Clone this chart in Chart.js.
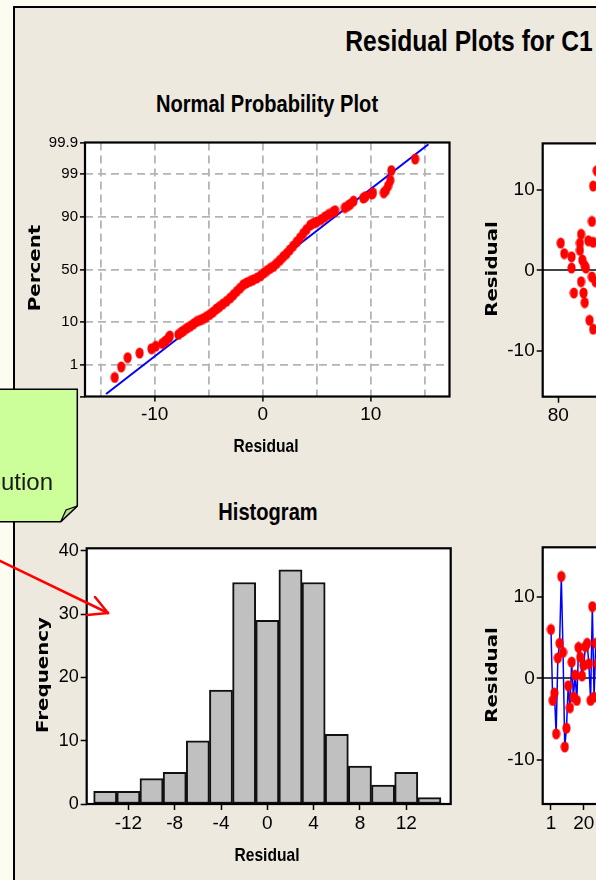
<!DOCTYPE html>
<html><head><meta charset="utf-8">
<script src="https://cdn.jsdelivr.net/npm/chart.js@4.4.1/dist/chart.umd.min.js"></script>
<style>
html,body{margin:0;padding:0;width:596px;height:880px;overflow:hidden;background:#fdfcf1;font-family:'Liberation Sans',Arial,sans-serif}
#panel{position:absolute;left:13px;top:6px;width:800px;height:1000px;background:#ede9df;border-left:2px solid #000;border-top:2px solid #000}
.box{position:absolute}
.txt{position:absolute;white-space:nowrap;line-height:1;color:#000}
.ttl{font-weight:bold;text-align:center;width:400px;transform:scaleX(.82)}
.rot{position:absolute;width:0;height:0}
.rot span{position:absolute;left:0;top:0;white-space:nowrap;line-height:1;font:bold 15px 'DejaVu Sans',sans-serif;transform:translate(-50%,-50%) rotate(-90deg) scaleX(1.32)}
</style></head>
<body>
<div id="panel"></div>

<div class="box" style="left:0;top:130px;width:460px;height:320px"><canvas id="npp"></canvas></div>
<div class="box" style="left:0;top:530px;width:460px;height:340px"><canvas id="hist"></canvas></div>
<div class="box" style="left:460px;top:130px;width:460px;height:320px"><canvas id="fits"></canvas></div>
<div class="box" style="left:460px;top:530px;width:460px;height:340px"><canvas id="order"></canvas></div>

<div class="txt ttl" style="left:268.5px;top:26px;font-size:30px">Residual Plots for C1</div>
<div class="txt ttl" style="left:66.5px;top:91.8px;font-size:24.5px">Normal Probability Plot</div>
<div class="txt ttl" style="left:68px;top:500px;font-size:24.5px">Histogram</div>
<div class="txt ttl" style="left:66px;top:435.5px;font-size:19px">Residual</div>
<div class="txt ttl" style="left:67px;top:844.5px;font-size:19px">Residual</div>
<div class="rot" style="left:35px;top:268px"><span>Percent</span></div>
<div class="rot" style="left:43px;top:675px"><span>Frequency</span></div>
<div class="rot" style="left:492px;top:269px"><span>Residual</span></div>
<div class="rot" style="left:492px;top:675px"><span>Residual</span></div>

<svg class="box" style="left:0;top:0;z-index:5" width="596" height="880">
  <polygon points="-5,389.3 77.3,389.3 77.3,506 60.7,521.7 -5,521.7" fill="#ccff99" stroke="#000" stroke-width="1.5"/>
  <polygon points="77.3,506 66,510 60.7,521.7" fill="#b8e08c" stroke="#000" stroke-width="1.2"/>
  <g stroke="#ff0000" stroke-width="2.5" stroke-linecap="round" fill="none">
    <line x1="-2" y1="560" x2="108" y2="613"/>
    <line x1="108" y1="613" x2="95" y2="597"/>
    <line x1="108" y1="613" x2="87" y2="615"/>
  </g>
</svg>
<div class="txt" style="left:-63px;top:469.7px;font-size:24px;color:#1a1a1a;z-index:6">distribution</div>

<script>
// normal probability plot: residual and percent
const nppRes=[-13.7,-13.1,-12.5,-11.4,-10.3,-9.9,-9.3,-9.0,-8.7,-8.6,-7.8,-7.5,-7.3,-7.0,-6.7,-6.4,-6.1,-5.8,-5.5,-5.2,-4.9,-4.6,-4.3,-4.0,-3.7,-3.35,-3.0,-2.7,-2.4,-2.1,-1.8,-1.5,-1.2,-0.9,-0.55,-0.2,0.1,0.4,0.7,1.0,1.3,1.6,1.9,2.2,2.5,2.8,3.15,3.45,3.75,4.05,4.4,4.7,5.0,5.4,5.75,6.1,6.5,6.7,7.6,7.9,8.1,8.4,9.3,9.5,10.1,10.2,11.2,11.4,11.6,11.8,11.9,14.1];
const nppPct=[0.43,0.89,1.6,2.1,2.7,3.1,3.6,4.1,4.8,5.3,5.7,6.4,6.9,7.7,8.4,9.3,10.3,10.9,11.6,12.6,13.7,15.0,16.8,18.3,20.0,22,24.5,27,29.8,32.5,35.6,37.2,38.6,40,41.8,44,46.6,49,51.2,53,56,59,62.3,65,68.3,71.5,75,78,81,83.5,86,87,87.7,88.8,90,91,91.9,92.4,93.4,94,94.4,95.2,95.9,96.2,96.7,96.9,96.9,97.3,97.9,98.5,99.2,99.64];
const fitRes=[-14.5,15.33];
const fitPct=[0.122,99.885];
const nppYTicks=[0.1,1,10,50,90,99,99.9];
const nppXTicks=[-15,-10,-5,0,5,10,15];

// histogram
const histBins=[-14,-12,-10,-8,-6,-4,-2,0,2,4,6,8,10,12,14];
const histFreq=[2,2,4,5,10,18,35,29,37,35,11,6,3,5,1];
const histXTicks=[-12,-8,-4,0,4,8,12];
const histYTicks=[0,10,20,30,40];

// versus fits (visible part)
const fitsX=[80.2,80.5,81.1,81.1,81.3,81.8,81.9,81.8,82.0,82.2,82.3,81.9,82.1,82.2,82.5,82.6,82.9,82.8,82.9,82.8,82.9,83.2,83.1];
const fitsY=[3.4,2.1,1.7,0.3,-2.8,3.4,4.5,2.5,1.3,0.6,0.3,-1.4,-2.8,-4.0,3.7,-6.2,-7.3,6.1,10.5,-0.8,3.5,12.4,-1.4];
const fitsXTicks=[80,90,100];

// versus order (visible part)
const orderY=[6.0,-2.7,-1.8,-6.8,2.5,4.3,12.5,3.2,-8.4,-6.1,-0.9,-3.6,2.0,-2.3,0.4,-2.7,3.8,2.6,0.3,1.6,3.9,4.3,1.8,-2.7,8.8,-2.3,4.3,1.8];
const orderXTicks=[1,20,40,60,80,100,120,140,160,180,200];
const resTicks=[-10,0,10];

function probit(p){
  const a=[-39.69683028665376,220.9460984245205,-275.9285104469687,138.3577518672690,-30.66479806614716,2.506628277459239];
  const b=[-54.47609879822406,161.5858368580409,-155.6989798598866,66.80131188771972,-13.28068155288572];
  const c=[-0.007784894002430293,-0.3223964580411365,-2.400758277161838,-2.549732539343734,4.374664141464968,2.938163982698783];
  const d=[0.007784695709041462,0.3224671290700398,2.445134137142996,3.754408661907416];
  const pl=0.02425;let q,r;
  if(p<pl){q=Math.sqrt(-2*Math.log(p));return (((((c[0]*q+c[1])*q+c[2])*q+c[3])*q+c[4])*q+c[5])/((((d[0]*q+d[1])*q+d[2])*q+d[3])*q+1);}
  if(p>1-pl){q=Math.sqrt(-2*Math.log(1-p));return -(((((c[0]*q+c[1])*q+c[2])*q+c[3])*q+c[4])*q+c[5])/((((d[0]*q+d[1])*q+d[2])*q+d[3])*q+1);}
  q=p-0.5;r=q*q;
  return (((((a[0]*r+a[1])*r+a[2])*r+a[3])*r+a[4])*r+a[5])*q/(((((b[0]*r+b[1])*r+b[2])*r+b[3])*r+b[4])*r+1);
}
const z=pct=>probit(pct/100);

const F="'Liberation Sans Narrow','Liberation Sans',sans-serif";
const setTicks=list=>s=>{s.ticks=list.map(v=>({value:v}));};
const fixW=w=>s=>{s.width=w;};
const fixH=h=>s=>{s.height=h;};
const clear='rgba(0,0,0,0)';

// red dot, taller than wide like the original symbol
const dot=document.createElement('canvas');
dot.width=9;dot.height=12;
(g=>{g.fillStyle='#ff0000';g.beginPath();g.ellipse(4.5,6,4.1,5.6,0,0,Math.PI*2);g.fill();})(dot.getContext('2d'));

const frame={id:'frame',
  beforeDraw(c){const a=c.chartArea,g=c.ctx;g.save();g.fillStyle='#fff';g.fillRect(a.left,a.top,a.right-a.left,a.bottom-a.top);g.restore();},
  afterDraw(c){const a=c.chartArea,g=c.ctx;g.save();g.strokeStyle='#000';g.lineWidth=2.2;g.strokeRect(a.left,a.top,a.right-a.left,a.bottom-a.top);g.restore();}
};

const base={animation:false,responsive:true,maintainAspectRatio:false,events:[],
  plugins:{legend:{display:false},tooltip:{enabled:false}}};
const tk=size=>({autoSkip:false,maxRotation:0,color:'#000',font:{family:F,size},padding:2});

new Chart(document.getElementById('npp'),{
  type:'scatter',
  data:{datasets:[
    {data:fitRes.map((r,i)=>({x:r,y:z(fitPct[i])})),showLine:true,borderColor:'#0000ff',borderWidth:2,pointRadius:0,order:2},
    {data:nppRes.map((r,i)=>({x:r,y:z(nppPct[i])})),pointStyle:dot,pointRadius:5,backgroundColor:'#ff0000',order:1}
  ]},
  options:{...base,
    layout:{padding:{left:0,top:12.5,right:10.5,bottom:13.5}},
    scales:{
      x:{type:'linear',min:-16.45,max:17.28,afterBuildTicks:setTicks(nppXTicks),afterFit:fixH(40),
        ticks:{...tk(19),callback:v=>v%10===0?String(v):''},
        grid:{color:'#b4b4b4',lineWidth:1.8,tickLength:5,tickWidth:1.5,tickColor:c=>c.tick&&c.tick.value%10===0?'#000':clear},
        border:{display:false,dash:[8,5]}},
      y:{type:'linear',min:z(0.1),max:z(99.9),afterBuildTicks:setTicks(nppYTicks.map(z)),afterFit:fixW(85),
        ticks:{...tk(15),callback:(v,i)=>String(nppYTicks[i])},
        grid:{color:c=>c.tick&&(c.index===0||c.index===nppYTicks.length-1)?clear:'#b4b4b4',lineWidth:1.8,tickLength:5,tickWidth:1.5,tickColor:'#000'},
        border:{display:false,dash:[8,5]}}
    }},
  plugins:[frame]
});

new Chart(document.getElementById('hist'),{
  type:'bar',
  data:{datasets:[{data:histBins.map((b,i)=>({x:b,y:histFreq[i]})),backgroundColor:'#c0c0c0',borderColor:'#111',borderWidth:2,borderSkipped:false,barPercentage:1,categoryPercentage:1}]},
  options:{...base,
    layout:{padding:{left:0,top:18.3,right:9.3,bottom:26}},
    scales:{
      x:{type:'linear',offset:false,min:-15.6,max:15.84,afterBuildTicks:setTicks(histXTicks),afterFit:fixH(40),
        ticks:tk(19),grid:{offset:false,drawOnChartArea:false,tickLength:6,tickWidth:1.5,tickColor:'#000'},border:{display:false}},
      y:{type:'linear',min:0,max:40.4,afterBuildTicks:setTicks(histYTicks),afterFit:fixW(86.7),
        ticks:tk(18),grid:{drawOnChartArea:false,tickLength:6,tickWidth:1.5,tickColor:'#000'},border:{display:false}}
    }},
  plugins:[frame]
});

const zeroLine={color:c=>c.tick&&c.tick.value===0?'#444':clear,lineWidth:2,tickLength:6,tickWidth:1.5,tickColor:'#000'};

new Chart(document.getElementById('fits'),{
  type:'scatter',
  data:{datasets:[{data:fitsX.map((x,i)=>({x,y:fitsY[i]})),pointStyle:dot,pointRadius:5,backgroundColor:'#ff0000'}]},
  options:{...base,
    layout:{padding:{left:0,top:12,right:12.3,bottom:13.3}},
    scales:{
      x:{type:'linear',min:78.7,max:109.1,afterBuildTicks:setTicks(fitsXTicks),afterFit:fixH(40),
        ticks:tk(19),grid:{drawOnChartArea:false,tickLength:6,tickWidth:1.5,tickColor:'#000'},border:{display:false}},
      y:{type:'linear',min:-15.7,max:15.8,afterBuildTicks:setTicks(resTicks),afterFit:fixW(82.7),
        ticks:tk(19),grid:zeroLine,border:{display:false}}
    }},
  plugins:[frame]
});

new Chart(document.getElementById('order'),{
  type:'scatter',
  data:{datasets:[{data:orderY.map((y,i)=>({x:i+1,y})),showLine:true,borderColor:'#0000ff',borderWidth:1.5,pointStyle:dot,pointRadius:5,backgroundColor:'#ff0000'}]},
  options:{...base,
    layout:{padding:{left:0,top:17.3,right:12.3,bottom:26}},
    scales:{
      x:{type:'linear',min:-3.8,max:208,afterBuildTicks:setTicks(orderXTicks),afterFit:fixH(40),
        ticks:tk(19),grid:{drawOnChartArea:false,tickLength:6,tickWidth:1.5,tickColor:'#000'},border:{display:false}},
      y:{type:'linear',min:-15.4,max:16.07,afterBuildTicks:setTicks(resTicks),afterFit:fixW(82.7),
        ticks:tk(19),grid:zeroLine,border:{display:false}}
    }},
  plugins:[frame]
});
</script>
</body></html>
